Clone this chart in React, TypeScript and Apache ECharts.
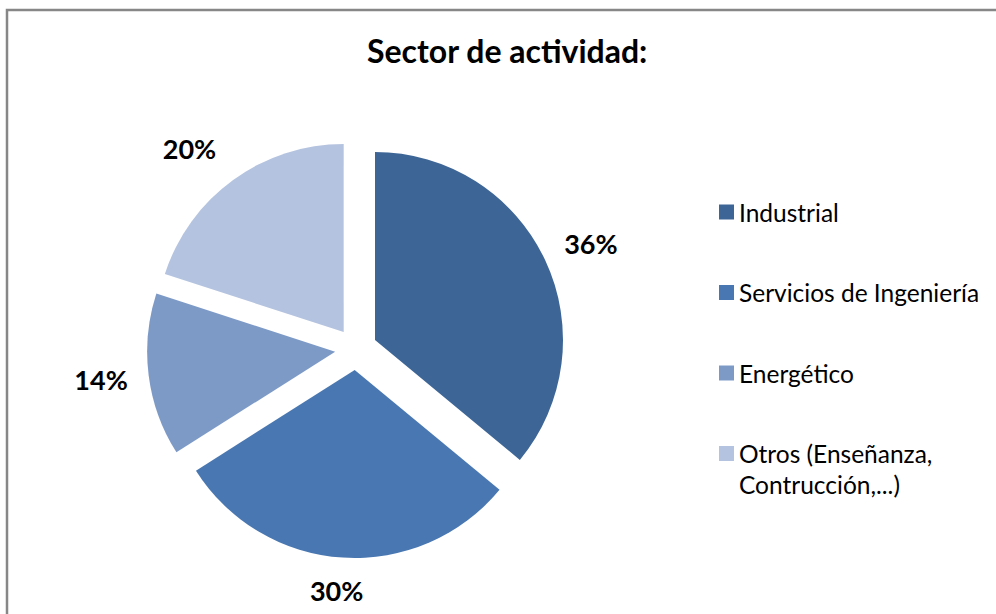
import React, { useEffect, useRef } from "react";
import * as echarts from "echarts";

const titleText = "Sector de actividad:";
const categories = [
  "Industrial",
  "Servicios de Ingeniería",
  "Energético",
  "Otros (Enseñanza,\nContrucción,...)",
];
const values = [36, 30, 14, 20];
const colors = ["#3D6697", "#4977B1", "#7D9AC7", "#B4C3DF"];

export default function App() {
  const ref = useRef<HTMLDivElement>(null);

  useEffect(() => {
    if (!ref.current) return;
    const chart = echarts.init(ref.current, undefined, { renderer: "svg" });

    const labelR = 255;
    // small layout nudges for the outside percentage labels (px)
    const nudges = [
      [1.4, 4.0],
      [-3.2, -15.8],
      [1.0, -1.9],
      [-14.9, 8.5],
    ];
    const lastName = categories[categories.length - 1];

    const option: any = {
      animation: false,
      textStyle: { fontFamily: "Lato" },
      title: {
        text: titleText,
        left: 367,
        top: 34,
        padding: 0,
        textStyle: {
          fontFamily: "Lato",
          fontWeight: "bold",
          fontSize: 32,
          lineHeight: 32,
          color: "#000",
        },
      },
      graphic: [
        {
          type: "rect",
          shape: { x: 7, y: 10, width: 1200, height: 900 },
          style: { fill: "none", stroke: "#878787", lineWidth: 2.5 },
          silent: true,
          z: 100,
        },
      ],
      legend: {
        orient: "vertical",
        left: 719,
        top: 165.5,
        padding: 0,
        itemWidth: 15,
        itemHeight: 15,
        itemGap: -12.5,
        icon: "rect",
        selectedMode: false,
        formatter: (name: string) => (name === lastName ? "\n" + name : name),
        textStyle: {
          fontFamily: "Lato",
          fontSize: 24.5,
          lineHeight: 31,
          color: "#000",
        },
        data: categories.map((name, i) => ({
          name,
          itemStyle: { color: colors[i] },
          textStyle: {
            padding: name === lastName ? 0 : [31, 0, 31, 0],
          },
        })),
      },
      series: [
        {
          type: "pie",
          center: [356, 349],
          radius: 188,
          startAngle: 90,
          clockwise: true,
          selectedMode: "multiple",
          selectedOffset: 21,
          label: { show: false },
          labelLine: { show: false },
          emphasis: { disabled: true },
          itemStyle: { borderWidth: 0 },
          data: categories.map((name, i) => ({
            name,
            value: values[i],
            selected: true,
            itemStyle: { color: colors[i] },
            select: { itemStyle: { color: colors[i] } },
          })),
        },
        {
          type: "pie",
          center: [356, 349],
          radius: [labelR - 5, labelR + 5],
          startAngle: 90,
          clockwise: true,
          silent: true,
          legendHoverLink: false,
          emphasis: { disabled: true },
          itemStyle: { color: "rgba(0,0,0,0)", borderWidth: 0 },
          labelLine: { show: false },
          label: {
            show: true,
            position: "inside",
            formatter: "{c}%",
            fontFamily: "Lato",
            fontWeight: "bold",
            fontSize: 27,
            color: "#000",
          },
          labelLayout: (p: any) => ({
            dx: nudges[p.dataIndex][0],
            dy: nudges[p.dataIndex][1],
          }),
          data: categories.map((name, i) => ({ name, value: values[i] })),
        },
      ],
    };

    chart.setOption(option);
    return () => chart.dispose();
  }, []);

  return (
    <div
      ref={ref}
      style={{ position: "absolute", left: 0, top: 0, width: 996, height: 614, background: "#fff" }}
    />
  );
}
